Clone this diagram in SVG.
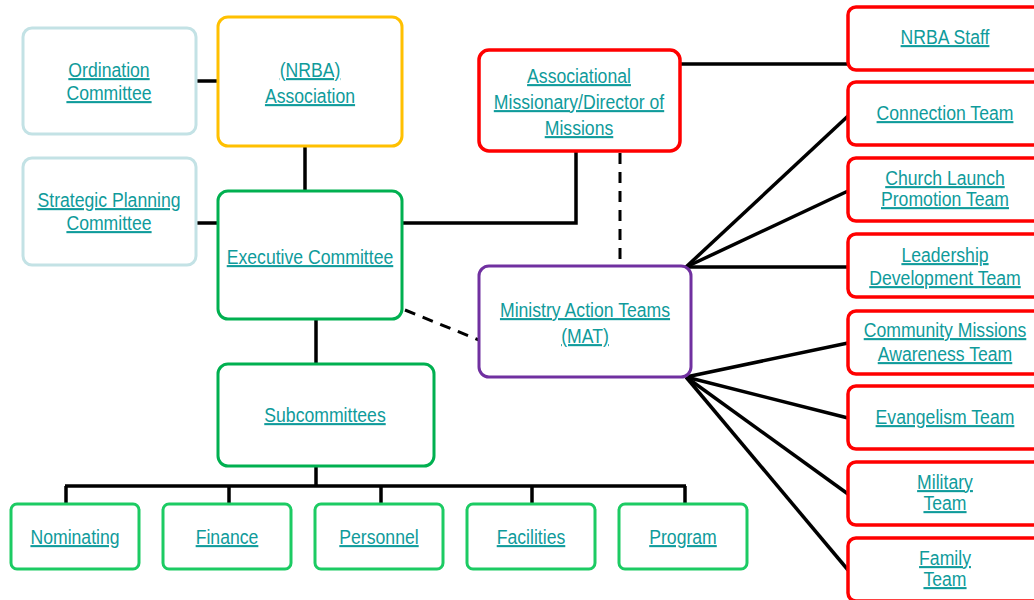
<svg xmlns="http://www.w3.org/2000/svg" width="1034" height="600" viewBox="0 0 1034 600">
<style>
.box{fill:#fff;stroke-width:3}
.blue{stroke:#c3e2e5}
.gold{stroke:#ffc000}
.green{stroke:#00b050}
.lgreen{stroke:#1ccb63}
.red{stroke:#ff0000;stroke-width:3.5}
.purple{stroke:#7030a0}
.t{font-family:"Liberation Sans",Arial,sans-serif;font-size:21px;fill:#0f9b9b;text-anchor:middle;text-decoration:underline}
.c{stroke:#000;stroke-width:3.5;fill:none}
.d{stroke:#000;stroke-width:3;fill:none;stroke-dasharray:11 8}
</style>
<g id="connectors">
<line class="c" x1="196" y1="81" x2="218" y2="81"/>
<line class="c" x1="196" y1="223" x2="218" y2="223"/>
<line class="c" x1="305" y1="146" x2="305" y2="191"/>
<polyline class="c" points="402,223 576,223 576,151"/>
<line class="c" x1="680" y1="64" x2="848" y2="64"/>
<line class="d" x1="620" y1="153" x2="620" y2="262"/>
<line class="d" x1="405" y1="310" x2="479" y2="340"/>
<line class="c" x1="316" y1="319" x2="316" y2="364"/>
<line class="c" x1="316" y1="466" x2="316" y2="486"/>
<line class="c" x1="65" y1="486" x2="686" y2="486"/>
<line class="c" x1="66" y1="486" x2="66" y2="504"/>
<line class="c" x1="229" y1="486" x2="229" y2="505"/>
<line class="c" x1="381" y1="486" x2="381" y2="504"/>
<line class="c" x1="532" y1="486" x2="532" y2="504"/>
<line class="c" x1="685" y1="486" x2="685" y2="505"/>
<line class="c" x1="686" y1="267" x2="848" y2="116"/>
<line class="c" x1="686" y1="267" x2="848" y2="191"/>
<line class="c" x1="686" y1="267" x2="848" y2="267"/>
<line class="c" x1="686" y1="377" x2="848" y2="343"/>
<line class="c" x1="686" y1="377" x2="848" y2="418"/>
<line class="c" x1="686" y1="377" x2="848" y2="494"/>
<line class="c" x1="686" y1="377" x2="848" y2="570"/>
</g>
<g id="ordination"><rect class="box blue" x="23" y="28" width="173" height="106" rx="9"/><g transform="translate(109,0) scale(0.84,1)"><text class="t" x="0" y="77">Ordination</text><text class="t" x="0" y="100">Committee</text></g></g>
<g id="nrba"><rect class="box gold" x="218" y="17" width="184" height="129" rx="10"/><g transform="translate(310,0) scale(0.84,1)"><text class="t" x="0" y="77">(NRBA)</text><text class="t" x="0" y="103">Association</text></g></g>
<g id="strategic"><rect class="box blue" x="23" y="158" width="173" height="107" rx="9"/><g transform="translate(109,0) scale(0.84,1)"><text class="t" x="0" y="207">Strategic Planning</text><text class="t" x="0" y="230">Committee</text></g></g>
<g id="executive"><rect class="box green" x="218" y="191" width="184" height="128" rx="10"/><g transform="translate(310,0) scale(0.84,1)"><text class="t" x="0" y="264">Executive Committee</text></g></g>
<g id="am"><rect class="box red" x="479" y="50" width="201" height="101" rx="10"/><g transform="translate(579,0) scale(0.84,1)"><text class="t" x="0" y="83">Associational</text><text class="t" x="0" y="109">Missionary/Director of</text><text class="t" x="0" y="135">Missions</text></g></g>
<g id="mat"><rect class="box purple" x="479" y="266" width="212" height="111" rx="10"/><g transform="translate(585,0) scale(0.84,1)"><text class="t" x="0" y="317">Ministry Action Teams</text><text class="t" x="0" y="343">(MAT)</text></g></g>
<g id="subcommittees"><rect class="box green" x="218" y="364" width="216" height="102" rx="10"/><g transform="translate(325,0) scale(0.84,1)"><text class="t" x="0" y="422">Subcommittees</text></g></g>
<g id="nominating"><rect class="box lgreen" x="11" y="504" width="128" height="65" rx="6"/><g transform="translate(75,0) scale(0.84,1)"><text class="t" x="0" y="544">Nominating</text></g></g>
<g id="finance"><rect class="box lgreen" x="163" y="504" width="128" height="65" rx="6"/><g transform="translate(227,0) scale(0.84,1)"><text class="t" x="0" y="544">Finance</text></g></g>
<g id="personnel"><rect class="box lgreen" x="315" y="504" width="128" height="65" rx="6"/><g transform="translate(379,0) scale(0.84,1)"><text class="t" x="0" y="544">Personnel</text></g></g>
<g id="facilities"><rect class="box lgreen" x="467" y="504" width="128" height="65" rx="6"/><g transform="translate(531,0) scale(0.84,1)"><text class="t" x="0" y="544">Facilities</text></g></g>
<g id="program"><rect class="box lgreen" x="619" y="504" width="128" height="65" rx="6"/><g transform="translate(683,0) scale(0.84,1)"><text class="t" x="0" y="544">Program</text></g></g>
<g id="staff"><rect class="box red" x="848" y="7" width="196" height="63" rx="8"/><g transform="translate(945,0) scale(0.84,1)"><text class="t" x="0" y="44">NRBA Staff</text></g></g>
<g id="connection"><rect class="box red" x="848" y="82" width="196" height="63" rx="8"/><g transform="translate(945,0) scale(0.84,1)"><text class="t" x="0" y="120">Connection Team</text></g></g>
<g id="churchlaunch"><rect class="box red" x="848" y="158" width="196" height="63" rx="8"/><g transform="translate(945,0) scale(0.84,1)"><text class="t" x="0" y="185">Church Launch</text><text class="t" x="0" y="206">Promotion Team</text></g></g>
<g id="leadership"><rect class="box red" x="848" y="234" width="196" height="63" rx="8"/><g transform="translate(945,0) scale(0.84,1)"><text class="t" x="0" y="262">Leadership</text><text class="t" x="0" y="285">Development Team</text></g></g>
<g id="community"><rect class="box red" x="848" y="311" width="196" height="63" rx="8"/><g transform="translate(945,0) scale(0.84,1)"><text class="t" x="0" y="337">Community Missions</text><text class="t" x="0" y="361">Awareness Team</text></g></g>
<g id="evangelism"><rect class="box red" x="848" y="386" width="196" height="63" rx="8"/><g transform="translate(945,0) scale(0.84,1)"><text class="t" x="0" y="424">Evangelism Team</text></g></g>
<g id="military"><rect class="box red" x="848" y="462" width="196" height="63" rx="8"/><g transform="translate(945,0) scale(0.84,1)"><text class="t" x="0" y="489">Military</text><text class="t" x="0" y="510">Team</text></g></g>
<g id="family"><rect class="box red" x="848" y="538" width="196" height="63" rx="8"/><g transform="translate(945,0) scale(0.84,1)"><text class="t" x="0" y="565">Family</text><text class="t" x="0" y="586">Team</text></g></g>
</svg>
